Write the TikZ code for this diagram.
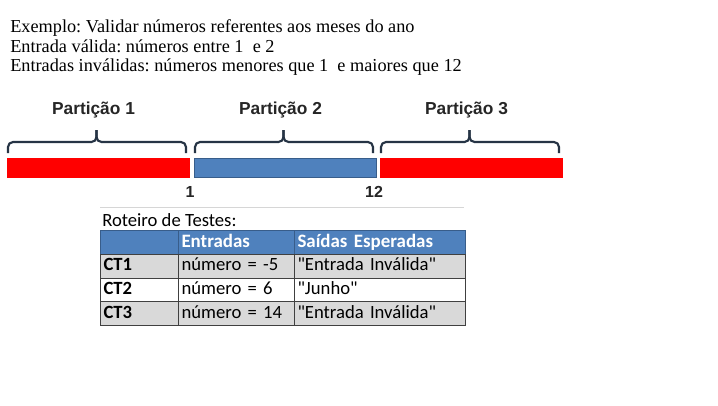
\documentclass[tikz,border=0pt]{standalone}
\usepackage{fontspec}
\setmainfont{Liberation Serif}
\newfontfamily\arialfont{Liberation Sans}
\newfontfamily\calibrifont{Carlito}
\usetikzlibrary{calc}
\definecolor{barred}{HTML}{FF0000}
\definecolor{barblue}{HTML}{4F81BD}
\definecolor{bardark}{HTML}{385D8A}
\definecolor{bracecol}{HTML}{263445}
\definecolor{labelgray}{HTML}{262626}
\definecolor{rowgray}{HTML}{D9D9D9}
\definecolor{gridcol}{HTML}{404040}
\definecolor{linegray}{HTML}{D6D6D6}
\newdimen\px \px=0.75pt
\frenchspacing

\begin{document}
\begin{tikzpicture}[
  x=0.75pt, y=-0.75pt,
  every node/.style={inner sep=0pt},
  introline/.style={anchor=base west, font=\fontsize{13.7}{14}\selectfont},
  partbar/.style={rectangle, draw=#1, fill=#1, line width=0.75pt, minimum width=182\px, minimum height=19\px, anchor=north west},
  partbrace/.style={draw=bracecol, line width=1.6pt, rounded corners=5\px},
  partlabel/.style={font=\arialfont\bfseries\fontsize{13}{13}\selectfont, text=labelgray},
  numlabel/.style={font=\arialfont\bfseries\fontsize{12}{12}\selectfont, text=labelgray},
  cell/.style={rectangle, draw=gridcol, line width=0.75pt, fill=#1, anchor=north west, minimum height=23.75\px, inner xsep=3\px, inner ysep=0pt, font=\calibrifont\fontsize{14}{14}\selectfont, text height=9.5pt, text depth=2.5pt, align=left},
  headcell/.style={cell=barblue, draw=bardark, text=white, font=\calibrifont\bfseries\fontsize{14.2}{14}\selectfont},
]
\fill[white] (0,0) rectangle (718,405);
\useasboundingbox (0,0) rectangle (718,405);

% enunciado
\node[introline] (intro1) at (10,32.7) {Exemplo: Validar números referentes aos meses do ano};
\node[introline] (intro2) at (10,52.2) {Entrada válida: números entre 1 \ e 2};
\node[introline] (intro3) at (10,71.7) {Entradas inválidas: números menores que 1 \ e maiores que 12};

% particoes
\node[partbar=barred] (bar1) at (7,158) {};
\node[partbar=barblue, draw=bardark] (bar2) at (194,158) {};
\node[partbar=barred] (bar3) at (380,158) {};

\foreach \i in {1,2,3}{
  \draw[partbrace] ($(bar\i.north west)+(1,-5)$) |- ($(bar\i.north)+(-2,-16)$) -- ($(bar\i.north)+(-2,-28)$);
  \draw[partbrace] ($(bar\i.north east)+(-4,-5)$) |- ($(bar\i.north)+(-2,-16)$) -- ($(bar\i.north)+(-2,-28)$);
  \node[partlabel] (part\i) at ($(bar\i.north)+(-5,-48)$) {Partição \i};
}

\node[numlabel] (lim1) at ($(bar1.south east)+(0,14)$) {1};
\node[numlabel] (lim12) at ($(bar2.south east)+(-3,14)$) {12};

% roteiro de testes
\node[headcell, text width=72\px] (h0) at (100,230) {};
\node[headcell, text width=110\px] (h1) at (178,230) {Entradas};
\node[headcell, text width=165\px] (h2) at (294,230) {Saídas Esperadas};

\draw[linegray, line width=0.75pt] ($(h0.north west)+(0,-23)$) -- ($(h2.north east)+(-2,-23)$);
\node[anchor=base west, font=\calibrifont\fontsize{14}{14}\selectfont] (title) at (102,226.5) {Roteiro de Testes:};

\foreach \r/\ct/\inp/\out/\shade in {1/CT1/{número = -5}/{"Entrada Inválida"}/rowgray,
                                    2/CT2/{número = 6}/{"Junho"}/white,
                                    3/CT3/{número = 14}/{"Entrada Inválida"}/rowgray}{
  \node[cell=\shade, text width=72\px, font=\calibrifont\bfseries\fontsize{14}{14}\selectfont] (c\r0) at (100,{230+\r*23.75}) {\ct};
  \node[cell=\shade, text width=110\px] (c\r1) at (178,{230+\r*23.75}) {\inp};
  \node[cell=\shade, text width=165\px] (c\r2) at (294,{230+\r*23.75}) {\out};
}

\end{tikzpicture}
\end{document}
